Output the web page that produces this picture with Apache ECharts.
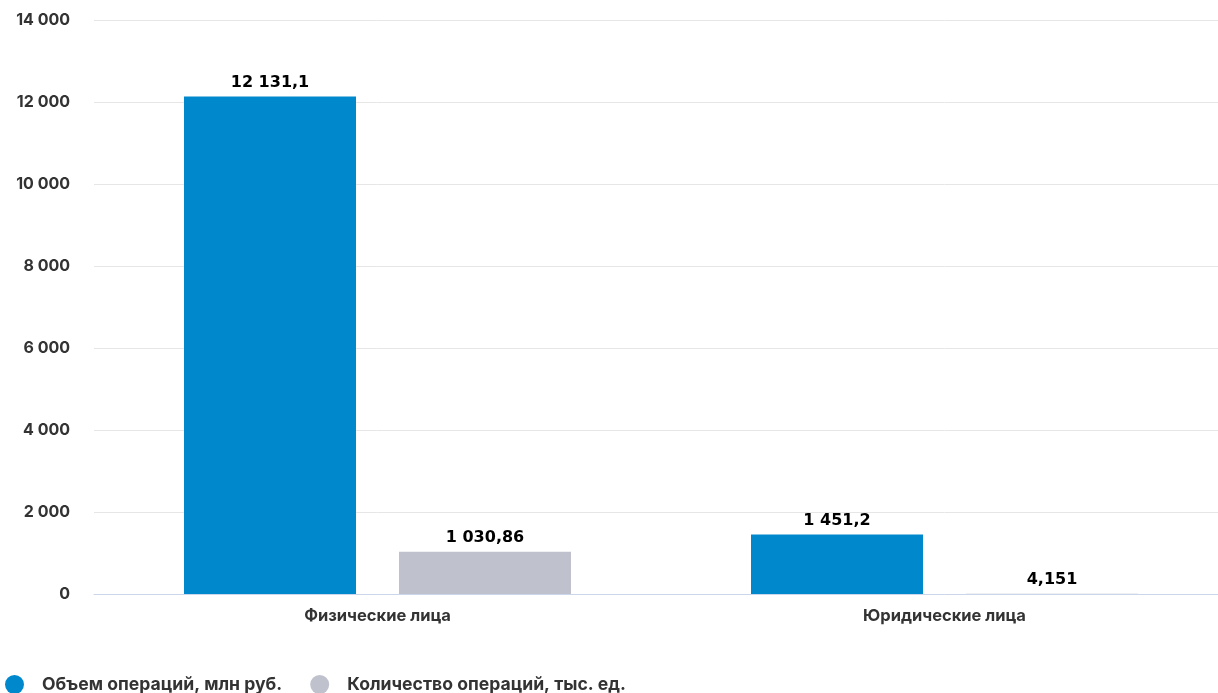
<!DOCTYPE html>
<html><head><meta charset="utf-8">
<script src="https://cdn.jsdelivr.net/npm/echarts@6/dist/echarts.min.js"></script>
<style>html,body{margin:0;padding:0;background:#fff;overflow:hidden}#c{width:1228px;height:693px}</style>
</head><body><div id="c"></div>
<script>
const categories = ['Физические лица', 'Юридические лица'];
const volumeValues = [12131.1, 1451.2];
const countValues = [1030.86, 4.151];
const seriesNames = ['Объем операций, млн руб.', 'Количество операций, тыс. ед.'];

function fmt(v) {
  const s = String(v).split('.');
  const ip = s[0].replace(/\B(?=(\d{3})+(?!\d))/g, ' ');
  return s.length > 1 ? ip + ',' + s[1] : ip;
}
const labelStyle = {
  show: true, position: 'top', distance: 6,
  fontFamily: 'DejaVu Sans', fontWeight: 'bold', fontSize: 16, color: '#000',
  formatter: p => fmt(p.value)
};
const chart = echarts.init(document.getElementById('c'));
chart.setOption({
  animation: false,
  textStyle: { fontFamily: 'Inter' },
  grid: { left: 94, right: 0, top: 20, height: 574 },
  legend: {
    left: 0, top: 670, itemWidth: 19, itemHeight: 19, itemGap: 28, icon: 'circle',
    textStyle: { fontFamily: 'Inter', fontWeight: 'bold', fontSize: 17.6, color: '#333', padding: [0, 0, 0, 13] }
  },
  xAxis: {
    type: 'category', data: categories,
    axisTick: { show: false },
    axisLine: { lineStyle: { color: '#ccd6eb' } },
    axisLabel: { margin: 14, fontFamily: 'Inter', fontWeight: 'bold', fontSize: 16.5, color: '#333' }
  },
  yAxis: {
    type: 'value', min: 0, max: 14000, interval: 2000,
    splitLine: { lineStyle: { color: '#e6e6e6' } },
    axisLabel: { margin: 24, fontFamily: 'Inter', fontWeight: 'bold', fontSize: 16, color: '#333', formatter: v => fmt(v) }
  },
  series: [
    { name: seriesNames[0], type: 'bar', data: volumeValues, barWidth: 172, barGap: '25%',
      itemStyle: { color: '#0088cc' }, label: labelStyle },
    { name: seriesNames[1], type: 'bar', data: countValues, barWidth: 172,
      itemStyle: { color: '#bfc2cc' }, label: labelStyle }
  ]
});
</script></body></html>
